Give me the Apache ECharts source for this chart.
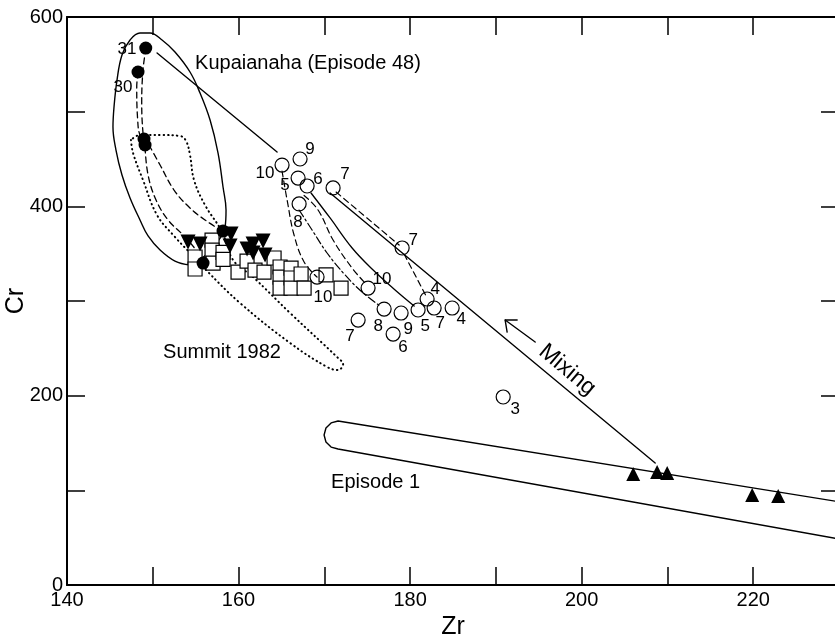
<!DOCTYPE html>
<html>
<head>
<meta charset="utf-8" />
<title>Zr vs Cr</title>
<script src="https://cdn.jsdelivr.net/npm/echarts@6/dist/echarts.min.js"></script>
<style>html,body{margin:0;padding:0;background:#fff}</style>
</head>
<body>
<div id="main" style="width:835px;height:641px"></div>
<script type="text/javascript">

var chart = echarts.init(document.getElementById('main'));

// axes
var zrRange = [140, 230];
var crRange = [0, 600];

// Kupaianaha (Episode 48) - filled circles
var kupaianaha = [[149.18,567.2],[148.28,541.9],[148.98,471.1],[149.10,464.8],[158.19,373.9],[155.86,340.1]];
// filled down triangles
var downTri = [[154.11,362.3],[155.51,360.2],[159.13,370.8],[159.01,358.1],[160.99,354.9],[161.69,360.2],[162.86,363.4],[161.69,350.7],[163.09,348.6]];
// open squares
var squares = [[154.93,346.5],[154.93,333.8],[156.91,364.4],[156.91,353.8],[157.03,340.1],[158.19,351.4],[158.19,344.0],[159.94,330.6],[160.99,342.2],[161.92,332.7],[162.97,330.6],[164.14,345.4],[164.84,335.9],[164.84,325.3],[164.84,313.7],[166.12,334.8],[166.12,324.3],[166.12,313.7],[167.29,328.5],[167.64,313.7],[170.20,327.5],[171.95,313.7]];
// open circles
var circles = [[165.07,443.6],[167.17,450.0],[166.94,429.9],[167.99,421.5],[171.02,419.4],[167.06,402.5],[179.07,356.0],[169.15,325.3],[175.10,313.7],[176.97,291.5],[178.95,287.3],[180.93,290.5],[181.98,302.1],[182.80,292.6],[184.90,292.6],[173.94,279.9],[178.02,265.1],[190.85,198.6]];
// Episode 1 - filled triangles
var episode1 = [[206.01,117.3],[208.80,119.4],[209.97,118.3],[219.88,95.1],[222.91,94.0]];

// episode numbers beside the symbols
var numText = ['31','30','10','9','5','6','7','8','7','10','10','8','9','5','4','7','4','7','6','3'];
var numPos = [[147.00,566.2],[146.53,526.0],[163.09,435.2],[168.34,460.6],[165.42,422.5],[169.27,428.9],[172.42,434.1],[166.94,383.4],[180.35,364.4],[169.85,304.2],[176.73,323.2],[176.27,273.6],[179.77,270.4],[181.75,273.6],[182.92,312.7],[183.50,276.8],[185.95,281.0],[173.00,263.0],[179.18,251.4],[192.24,185.9]];

// outlines and trend lines
var kupaEllipse = [[154.34,338.0],[152.59,342.2],[150.85,353.9],[149.45,368.7],[148.51,385.6],[147.35,408.8],[146.41,433.1],[145.71,459.5],[145.36,483.8],[145.48,504.9],[145.83,533.4],[146.41,559.8],[147.35,575.7],[148.51,583.1],[149.68,583.1],[151.08,575.7],[152.59,563.0],[154.34,541.9],[155.51,519.7],[156.68,491.2],[157.61,456.3],[158.19,420.4],[158.54,396.1],[158.43,378.2],[157.26,359.1],[155.51,343.3],[154.34,338.0]];
var summitLoop = [[147.46,470.1],[147.70,456.3],[148.86,427.8],[150.50,390.8],[152.59,367.6],[154.58,348.6],[156.21,332.7],[160.17,297.9],[166.01,255.6],[170.32,230.3],[171.60,227.1],[172.19,233.4],[171.60,239.8],[166.01,287.3],[161.69,325.3],[159.36,343.3],[158.08,372.9],[156.09,401.4],[154.81,427.8],[154.34,454.2],[153.88,469.0],[153.18,474.3],[150.85,475.3],[148.51,475.3],[147.46,470.1]];
var episode1Loop = [[230,87.9],[171.60,173.2],[170.79,171.2],[170.19,165.8],[169.97,158.4],[170.19,151.1],[170.79,145.7],[171.60,143.7],[230,48.6]];
var kupaDashA = [[149.21,567.2],[148.86,544.0],[148.71,509.1],[148.86,477.5],[149.10,464.8]];
var kupaDashB = [[148.28,541.9],[148.13,526.0],[148.24,491.2],[148.51,475.3],[149.10,470.1]];
var kupaDashC = [[149.10,462.7],[149.45,433.1],[150.38,406.7],[151.78,385.6],[153.53,369.7],[155.04,353.9],[155.98,340.1]];
var kupaDashD = [[149.56,464.8],[150.85,443.7],[152.48,417.2],[154.34,398.2],[156.09,385.6],[158.08,374.0]];
var kupaSolid = [[150.50,562.0],[164.49,457.4]];
var trendA = [[165.07,437.3],[165.66,406.7],[166.47,369.7],[167.64,341.2],[169.15,325.3]];
var trendB = [[167.06,396.1],[168.57,375.0],[170.32,350.7],[172.42,327.5],[174.40,309.5],[176.50,294.7]];
var trendC = [[167.64,411.5],[169.27,396.1],[171.02,364.4],[173.24,334.8],[174.75,319.0]];
var trendD = [[168.45,414.1],[170.67,387.7],[173.24,356.0],[175.69,332.7],[178.25,311.6],[180.47,294.7]];
var mixingLine = [[170.67,414.1],[208.57,128.9]];
var trendF1 = [[171.37,415.1],[178.72,359.1]];
var trendF2 = [[179.30,349.6],[181.98,303.2]];
var arrowShaft = [[191.08,279.9],[194.58,256.7]];
var arrowHead = [[192.48,279.9],[191.08,279.9],[191.31,267.2]];

var fontName = 'Liberation Sans';

function curve(data, dash, width, smooth) {
    return {
        type: 'line', data: data, symbol: 'none', smooth: smooth || false,
        silent: true, z: 1,
        lineStyle: { color: '#000', width: width, type: dash, cap: 'round', opacity: 1 }
    };
}

function note(x, y, text, size, align, rotate) {
    return {
        value: [x, y],
        label: { show: true, position: 'inside', formatter: text, fontSize: size,
            align: align, rotate: rotate || 0, color: '#000', opacity: 1, fontFamily: fontName }
    };
}

var numData = numPos.map(function (p, i) { return note(p[0], p[1], numText[i], 17, 'center'); });
var textData = [
    note(154.93, 551.4, 'Kupaianaha (Episode 48)', 20, 'left'),
    note(151.20, 245.1, 'Summit 1982', 20, 'left'),
    note(170.79, 108.8, 'Episode 1', 20, 'left'),
    note(198.31, 227.1, 'Mixing', 23, 'center', -40)
];

var dotted = [0.5, 4];
var dashed = [6, 4];
var dashDot = [8, 3, 2, 3];

function axisX(pos, labels) {
    return {
        type: 'value', position: pos, min: zrRange[0], max: zrRange[1], interval: 10,
        name: labels ? 'Zr' : '', nameLocation: 'middle', nameGap: 30, nameMoveOverlap: false,
        nameTextStyle: { fontSize: 25, color: '#000', fontFamily: fontName },
        axisLine: { show: true, onZero: false, lineStyle: { color: '#000', width: 2 } },
        axisTick: { show: true, inside: true, length: 18, lineStyle: { color: '#000', width: 1.5 } },
        axisLabel: { show: labels, margin: 5, fontSize: 20, color: '#000', fontFamily: fontName,
            formatter: function (v) { return v % 20 === 0 ? v : ''; } },
        splitLine: { show: false }
    };
}
function axisY(pos, labels) {
    return {
        type: 'value', position: pos, min: crRange[0], max: crRange[1], interval: 100,
        name: labels ? 'Cr' : '', nameLocation: 'middle', nameGap: 38, nameRotate: 90, nameMoveOverlap: false,
        nameTextStyle: { fontSize: 25, color: '#000', fontFamily: fontName },
        axisLine: { show: true, onZero: false, lineStyle: { color: '#000', width: 2 } },
        axisTick: { show: true, inside: true, length: 18, lineStyle: { color: '#000', width: 1.5 } },
        axisLabel: { show: labels, margin: 4, fontSize: 20, color: '#000', fontFamily: fontName,
            formatter: function (v) { return v % 200 === 0 ? v : ''; } },
        splitLine: { show: false }
    };
}

var option = {
    animation: false,
    backgroundColor: '#fff',
    grid: { left: 67, right: -4, top: 17, bottom: 56, containLabel: false, outerBoundsMode: 'none' },
    xAxis: [axisX('bottom', true), axisX('top', false)],
    yAxis: [axisY('left', true), axisY('right', false)],
    series: [
        curve(kupaEllipse, 'solid', 1.4, 0.4),
        curve(summitLoop, dotted, 2, 0.4),
        curve(episode1Loop, 'solid', 1.4, false),
        curve(kupaDashA, dashed, 1.3, 0.4),
        curve(kupaDashB, dashed, 1.3, 0.4),
        curve(kupaDashC, dashed, 1.3, 0.4),
        curve(kupaDashD, dashed, 1.3, 0.4),
        curve(kupaSolid, 'solid', 1.4, false),
        curve(trendA, dashed, 1.2, 0.4),
        curve(trendB, dashDot, 1.2, 0.4),
        curve(trendC, dashed, 1.2, 0.4),
        curve(trendD, 'solid', 1.3, 0.4),
        curve(mixingLine, 'solid', 1.4, false),
        curve(trendF1, dashed, 1.2, false),
        curve(trendF2, dashed, 1.2, false),
        curve(arrowShaft, 'solid', 1.4, false),
        curve(arrowHead, 'solid', 1.4, false),
        {
            type: 'scatter', data: squares, symbol: 'rect', symbolSize: 14, z: 3,
            itemStyle: { color: '#fff', borderColor: '#000', borderWidth: 1.2, opacity: 1 }
        },
        {
            type: 'scatter', data: circles, symbol: 'circle', symbolSize: 14, z: 4,
            itemStyle: { color: 'rgba(0,0,0,0)', borderColor: '#000', borderWidth: 1.2, opacity: 1 }
        },
        {
            type: 'scatter', data: downTri, symbol: 'triangle', symbolRotate: 180, symbolSize: 15, z: 5,
            itemStyle: { color: '#000', opacity: 1 }
        },
        {
            type: 'scatter', data: kupaianaha, symbol: 'circle', symbolSize: 13, z: 6,
            itemStyle: { color: '#000', opacity: 1 }
        },
        {
            type: 'scatter', data: episode1, symbol: 'triangle', symbolSize: 14, z: 5,
            itemStyle: { color: '#000', opacity: 1 }
        },
        {
            type: 'scatter', data: numData, symbolSize: 1, z: 7, silent: true,
            itemStyle: { color: 'rgba(0,0,0,0)', opacity: 1 }
        },
        {
            type: 'scatter', data: textData, symbolSize: 1, z: 7, silent: true,
            itemStyle: { color: 'rgba(0,0,0,0)', opacity: 1 }
        }
    ]
};

chart.setOption(option);

</script>
</body>
</html>
